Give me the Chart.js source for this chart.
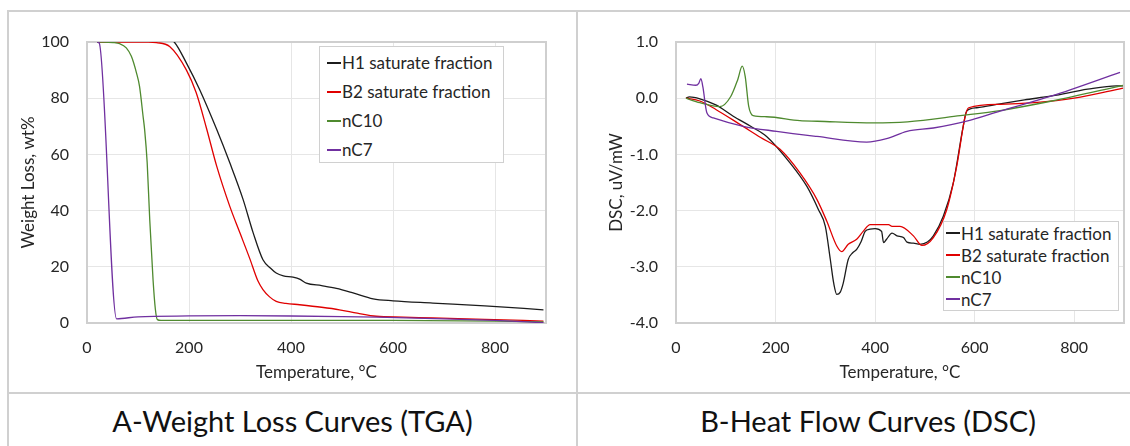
<!DOCTYPE html>
<html>
<head>
<meta charset="utf-8">
<title>TGA and DSC curves</title>
<script src="https://cdn.jsdelivr.net/npm/chart.js@4.4.0/dist/chart.umd.min.js"></script>
<style>
  body { margin: 0; background: #fff; font-family: Lato, sans-serif; color: #262626; }
  #page { position: relative; width: 1130px; height: 446px; overflow: hidden; }
  .line { position: absolute; background: #d0d0d0; }
  .wrap { position: absolute; }
  .legend { position: absolute; background: #fff; border: 1.5px solid #d0d0d0; box-sizing: border-box; font-size: 17px; white-space: nowrap; }
  .legend .row { display: flex; align-items: center; }
  .legend .mark { display: inline-block; width: 14px; height: 2px; margin-right: 1px; }
  .caption { position: absolute; top: 396px; height: 50px; line-height: 50px; text-align: center; font-size: 29px; color: #111; }
</style>
</head>
<body>
<div id="page">
  <!-- table lines -->
  <div class="line" style="left:7px;top:10px;width:1130px;height:2px"></div>
  <div class="line" style="left:7px;top:10px;width:2px;height:440px"></div>
  <div class="line" style="left:576px;top:10px;width:2px;height:440px"></div>
  <div class="line" style="left:7px;top:392px;width:1130px;height:2px"></div>

  <div class="wrap" style="left:9px;top:12px"><canvas id="tga" width="567" height="380"></canvas></div>
  <div class="wrap" style="left:578px;top:12px"><canvas id="dsc" width="552" height="380"></canvas></div>

  <div class="legend" id="tgaLegend" style="left:319px;top:46px;width:185px;height:117px;padding:1px 0 0 7px"></div>
  <div class="legend" id="dscLegend" style="left:943px;top:221px;width:176px;height:90px;padding:0 0 0 2px"></div>

  <div class="caption" style="left:9px;width:567px">A-Weight Loss Curves (TGA)</div>
  <div class="caption" style="left:578px;width:580px">B-Heat Flow Curves (DSC)</div>
</div>

<script>
// series names / colours (same for both charts)
var seriesNames = ['H1 saturate fraction', 'B2 saturate fraction', 'nC10', 'nC7'];
var seriesColors = ['#1c1c1c', '#e00000', '#4f8a2f', '#7030a0'];

// axis ticks
var tempTicks = [0, 200, 400, 600, 800];
var tgaTicks = [0, 20, 40, 60, 80, 100];
var dscTicks = [-4, -3, -2, -1, 0, 1];

// A - TGA, weight loss wt% vs temperature °C
var tgaH1Temp = [20, 60, 120, 150, 171, 195, 221, 254, 280, 306, 326, 345, 360, 371, 385, 404, 418, 430, 460, 489, 520, 561, 600, 678, 780, 895];
var tgaH1 = [100, 101, 102, 101.8, 100, 92.5, 83, 69, 57, 44, 32, 22.5, 19.5, 17.8, 16.8, 16.3, 15.5, 14.2, 13.3, 12.3, 10.8, 8.6, 7.9, 7.1, 6.1, 4.7];

var tgaB2Temp = [20, 60, 120, 136, 162, 195, 214, 234, 254, 280, 300, 319, 335, 345, 358, 371, 390, 417, 460, 495, 530, 567, 620, 678, 780, 895];
var tgaB2 = [100, 100, 100, 99.8, 98.4, 90, 82, 69.5, 56, 41.5, 32, 23, 15, 11.9, 9.3, 7.7, 7.0, 6.5, 5.6, 4.7, 3.5, 2.4, 2.1, 1.8, 1.3, 0.7];

var tgaC10Temp = [20, 51, 64, 77, 87, 97, 103, 110, 113, 118, 123, 129.5, 134, 138, 145, 300, 600, 800, 895];
var tgaC10 = [100, 99.8, 99.4, 97.9, 94.9, 89, 84.2, 73.5, 68.8, 57, 36.8, 15.4, 5, 1.2, 0.9, 0.9, 0.9, 0.7, 0.4];

var tgaC7Temp = [20, 24, 58, 100, 200, 300, 400, 500, 570, 700, 800, 895];
var tgaC7 = [100, 99.6, 1.5, 2.2, 2.5, 2.6, 2.5, 2.3, 2.1, 1.5, 0.9, 0.1];

// B - DSC, uV/mW vs temperature °C
var dscH1Temp = [20, 27, 48, 80, 115, 150, 182, 229, 263, 286, 300, 310, 317, 323, 330, 336, 346, 355, 363, 372, 380, 390, 400, 413, 417, 423, 434, 444, 457, 464, 477, 490, 505, 517, 537, 557, 577, 584, 604, 651, 700, 755, 827, 885, 898];
var dscH1 = [0, 0.025, -0.01, -0.12, -0.32, -0.5, -0.68, -1.15, -1.57, -1.98, -2.28, -2.87, -3.3, -3.49, -3.45, -3.29, -2.87, -2.75, -2.69, -2.55, -2.37, -2.33, -2.32, -2.37, -2.57, -2.51, -2.40, -2.45, -2.48, -2.56, -2.58, -2.60, -2.56, -2.45, -2.10, -1.51, -0.50, -0.23, -0.17, -0.10, -0.03, 0.04, 0.16, 0.22, 0.22];

var dscB2Temp = [20, 48, 80, 129, 170, 209, 249, 283, 303, 323, 333, 346, 363, 376, 390, 410, 427, 434, 450, 477, 494, 517, 544, 564, 581, 588, 651, 720, 800, 898];
var dscB2 = [0, -0.05, -0.2, -0.47, -0.7, -0.91, -1.33, -1.80, -2.19, -2.63, -2.73, -2.60, -2.51, -2.37, -2.25, -2.25, -2.25, -2.28, -2.28, -2.45, -2.62, -2.48, -1.98, -1.21, -0.32, -0.17, -0.11, -0.08, 0.0, 0.18];

var dscC10Temp = [20, 48, 88, 110, 124, 133, 139, 146, 155, 182, 249, 284, 397, 465, 571, 651, 755, 898];
var dscC10 = [0, -0.08, -0.15, 0.03, 0.33, 0.57, 0.39, -0.14, -0.31, -0.33, -0.40, -0.41, -0.44, -0.42, -0.31, -0.22, -0.05, 0.23];

var dscC7Temp = [22, 40, 46, 50, 54, 62, 75, 135, 202, 283, 383, 423, 464, 517, 584, 651, 755, 892];
var dscC7 = [0.25, 0.23, 0.27, 0.35, 0.2, -0.26, -0.35, -0.5, -0.59, -0.68, -0.78, -0.72, -0.59, -0.53, -0.41, -0.23, 0.04, 0.46];


function pairs(xs, ys) {
    return xs.map(function (x, i) { return { x: x, y: ys[i] }; });
}

function makeDatasets(list) {
    // list = [[temps, values], ...] in legend order
    return list.map(function (s, i) {
        return {
            label: seriesNames[i],
            data: pairs(s[0], s[1]),
            borderColor: seriesColors[i],
            borderWidth: 1.3,
            pointRadius: 0,
            showLine: true,
            fill: false,
            cubicInterpolationMode: 'monotone',
            order: list.length - i   // later series drawn on top, like the original
        };
    });
}

// grey box round the plot area
var plotFrame = {
    id: 'plotFrame',
    beforeDatasetsDraw: function (chart) {
        var a = chart.chartArea, ctx = chart.ctx;
        ctx.save();
        ctx.strokeStyle = '#cfcfcf';
        ctx.lineWidth = 2;
        ctx.strokeRect(a.left, a.top, a.right - a.left, a.bottom - a.top);
        ctx.restore();
    }
};

function makeChart(id, datasets, cfg) {
    return new Chart(document.getElementById(id), {
        type: 'scatter',
        data: { datasets: datasets },
        plugins: [plotFrame],
        options: {
            responsive: false,
            animation: false,
            devicePixelRatio: 1,
            layout: { padding: { top: 30, right: cfg.padRight, bottom: 0, left: 0 } },
            plugins: { legend: { display: false }, tooltip: { enabled: false } },
            scales: {
                x: {
                    type: 'linear', min: 0, max: 900,
                    afterBuildTicks: function (s) { s.ticks = tempTicks.map(function (v) { return { value: v }; }); },
                    afterFit: function (s) { s.height = 69; },
                    grid: { color: '#e6e6e6', drawTicks: false },
                    border: { display: false },
                    ticks: { padding: 15, color: '#262626', font: { family: 'Lato', size: 16 } },
                    title: { display: true, text: 'Temperature, °C', color: '#262626', padding: { top: 0, bottom: 9 }, font: { family: 'Lato', size: 17 } }
                },
                y: {
                    type: 'linear', min: cfg.yMin, max: cfg.yMax,
                    afterBuildTicks: function (s) { s.ticks = cfg.yTicks.map(function (v) { return { value: v }; }); },
                    afterFit: function (s) { s.width = cfg.axisWidth; },
                    grid: { color: '#e6e6e6', drawTicks: false },
                    border: { display: false },
                    ticks: { padding: 18, color: '#262626', font: { family: 'Lato', size: 16 }, callback: cfg.fmt },
                    title: { display: true, text: cfg.yTitle, color: '#262626', padding: { top: cfg.titlePad, bottom: 0 }, font: { family: 'Lato', size: 17 } }
                }
            }
        }
    });
}

function buildLegend(el, rowHeight) {
    seriesNames.forEach(function (name, i) {
        var row = document.createElement('div');
        row.className = 'row';
        row.style.height = rowHeight + 'px';
        var mark = document.createElement('span');
        mark.className = 'mark';
        mark.style.background = seriesColors[i];
        row.appendChild(mark);
        row.appendChild(document.createTextNode(name));
        el.appendChild(row);
    });
}

var tgaChart = makeChart('tga', makeDatasets([
    [tgaH1Temp, tgaH1], [tgaB2Temp, tgaB2], [tgaC10Temp, tgaC10], [tgaC7Temp, tgaC7]
]), {
    yMin: 0, yMax: 100, yTicks: tgaTicks, axisWidth: 78, padRight: 30, titlePad: 9,
    yTitle: 'Weight Loss, wt%',
    fmt: function (v) { return String(v); }
});

var dscChart = makeChart('dsc', makeDatasets([
    [dscH1Temp, dscH1], [dscB2Temp, dscB2], [dscC10Temp, dscC10], [dscC7Temp, dscC7]
]), {
    yMin: -4, yMax: 1, yTicks: dscTicks, axisWidth: 98, padRight: 6, titlePad: 28,
    yTitle: 'DSC, uV/mW',
    fmt: function (v) { return v.toFixed(1); }
});

buildLegend(document.getElementById('tgaLegend'), 29);
buildLegend(document.getElementById('dscLegend'), 22);
</script>
</body>
</html>
